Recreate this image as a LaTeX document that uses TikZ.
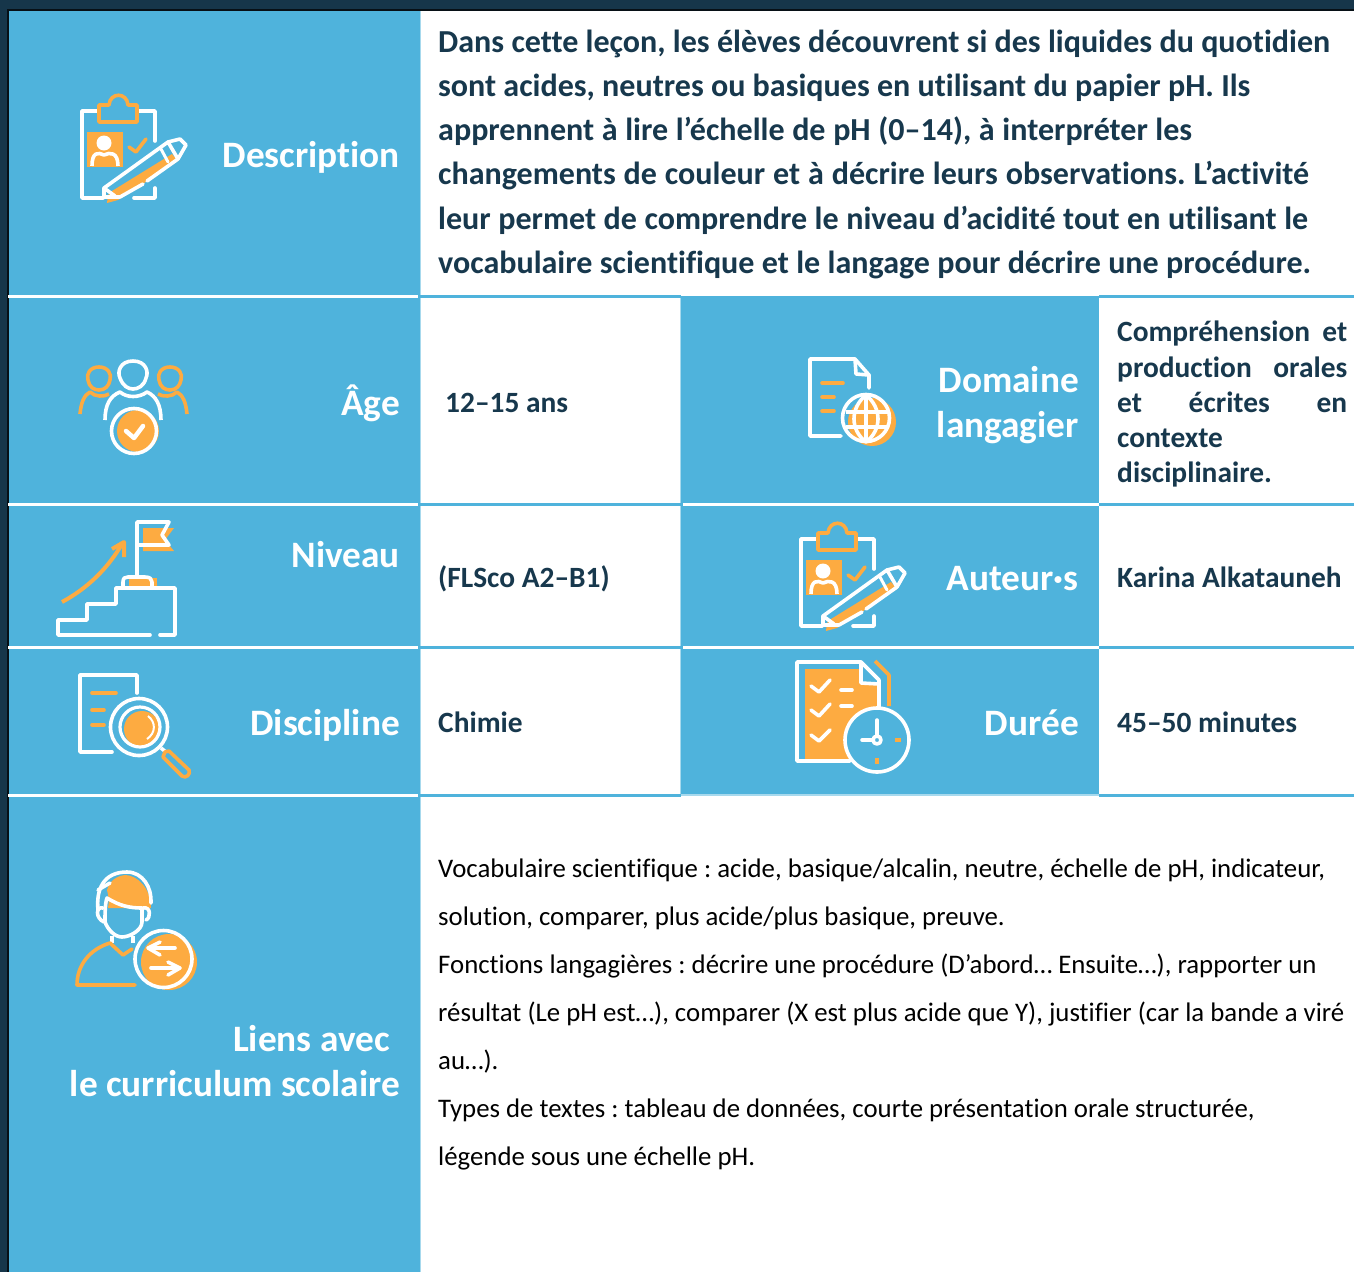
\documentclass[tikz,border=0pt]{standalone}
\usepackage{fontspec}
\setmainfont[Ligatures=NoCommon]{Carlito}
\AtBeginDocument{\frenchspacing}
\definecolor{cblue}{HTML}{4FB3DC}
\definecolor{corange}{HTML}{FDAB41}
\definecolor{cdark}{HTML}{16364A}
\definecolor{ctext}{HTML}{17384D}
\newcommand{\bigf}{\fontsize{37.3}{44}\selectfont\bfseries}
\newcommand{\parf}{\fontsize{32.05}{44}\selectfont\bfseries}
\newcommand{\midf}{\fontsize{29.4}{36}\selectfont\bfseries}
\newcommand{\regf}{\fontsize{26.8}{48}\selectfont}
\newcommand{\fitline}[2]{\makebox[#1pt][s]{#2}}
\tikzset{
  x=1pt,y=-1pt,
  head/.style={anchor=base east,text=white,font=\bigf,inner sep=0pt},
  para/.style={anchor=base west,text=ctext,font=\parf,inner sep=0pt},
  cell/.style={anchor=base west,text=ctext,font=\midf,inner sep=0pt},
  reg/.style={anchor=base west,text=black,font=\regf,inner sep=0pt},
  wl/.style={draw=white,line width=3.6pt,line cap=round,line join=round},
  ol/.style={draw=corange,line width=3.6pt,line cap=round,line join=round},
  bcell/.style={fill=cblue,draw=none},
  clipicon/.pic={
    \fill[corange] (87,132) rectangle (123,167);
    \fill[white] (104,143) circle (7.5);
    \draw[wl,line cap=butt] (92,166) .. controls (92,152) and (98,152) .. (104,155) .. controls (110,152) and (118,152) .. (118,166);
    \draw[wl] (98,111)--(82,111)--(82,198)--(103,198);
    \draw[wl] (134,198)--(155,198)--(155,188);
    \draw[wl] (138,111)--(155,111)--(155,141);
    \draw[ol] (99,122)--(99,105)--(109,105) .. controls (110,92) and (127,92) .. (128,105)--(137,105)--(137,122)--cycle;
    \draw[ol] (129,147)--(136,152)--(146,139);
    \fill[corange] (112,191)--(172,154)--(178,161)--(118,200)--(107,203)--(108,195)--cycle;
    \draw[wl] (104,197)--(104,188)--(168,142)--(178,159)--(147,181);
    \draw[wl] (143,184)--(120,197)--(104,197);
    \draw[wl] (168,142)--(180,139)--(186,145)--(178,159);
    \draw[wl] (104,188)--(115,196);
    \draw[wl,line width=3pt] (161,149)--(168,162);
  },
}
\begin{document}
\begin{tikzpicture}
\useasboundingbox (0,0) rectangle (1354,1272);
\fill[white] (0,0) rectangle (1354,1272);
\fill[cdark] (0,0) rectangle (1354,10);
\fill[cdark] (0,0) rectangle (8,1272);
\fill[black!70!cdark] (8,9) rectangle (1354,11);
\fill[black!70!cdark] (7,9) rectangle (9,1272);
% blue cells
\fill[bcell] (9,11) rectangle (420,1272);
\fill[bcell] (681,296) rectangle (1099,794);
\fill[cblue!50] (420,11) rectangle (421,1272);
\fill[cblue!50] (680,296) rectangle (681,795);
\fill[cblue!50] (681,794) rectangle (1099,796);
% separators
\foreach \yy in {296.5,504.5,647,795}{
  \fill[white] (8,\yy-1.5) rectangle (418,\yy+1.5);
  \fill[cblue] (420,\yy-1.5) rectangle (681,\yy+1.5);
  \fill[cblue] (1099,\yy-1.5) rectangle (1354,\yy+1.5);
}
\foreach \yy in {504.5,647}{\fill[white] (683,\yy-1.5) rectangle (1099,\yy+1.5);}
% headers
\node[head] (h1) at (400,167) {Description};
\node[head] (h2) at (400,415) {Âge};
\node[head] (h3) at (400,567) {Niveau};
\node[head] (h4) at (400,735) {Discipline};
\node[head] (h5) at (390,1051) {Liens avec};
\node[head] (h6) at (400,1096) {le curriculum scolaire};
\node[head] (h7) at (1079,392) {Domaine};
\node[head] (h8) at (1079,437) {langagier};
\node[head] (h9) at (1079,590) {Auteur·s};
\node[head] (h10) at (1079,735) {Durée};
% description
\node[para] (p1) at (438,52) {\fitline{892}{Dans cette leçon, les élèves découvrent si des liquides du quotidien}};
\node[para] (p2) at (438,96) {\fitline{812}{sont acides, neutres ou basiques en utilisant du papier pH. Ils}};
\node[para] (p3) at (438,140) {\fitline{754}{apprennent à lire l’échelle de pH (0–14), à interpréter les}};
\node[para] (p4) at (438,184) {\fitline{871}{changements de couleur et à décrire leurs observations. L’activité}};
\node[para] (p5) at (438,229) {\fitline{870}{leur permet de comprendre le niveau d’acidité tout en utilisant le}};
\node[para] (p6) at (438,273) {\fitline{873}{vocabulaire scientifique et le langage pour décrire une procédure.}};
% cells
\node[cell] (c1) at (445,412) {12–15 ans};
\node[cell] (c2) at (438,587) {(FLSco A2–B1)};
\node[cell] (c3) at (438,732) {Chimie};
\node[cell] (c4) at (1117,341) {\makebox[230pt][s]{Compréhension\hfill et}};
\node[cell] (c5) at (1117,377) {\makebox[230pt][s]{production\hfill orales}};
\node[cell] (c6) at (1117,412) {\makebox[230pt][s]{et\hfill écrites\hfill en}};
\node[cell] (c7) at (1117,447) {contexte};
\node[cell] (c8) at (1117,482) {disciplinaire.};
\node[cell] (c9) at (1117,587) {Karina Alkatauneh};
\node[cell] (c10) at (1117,732) {45–50 minutes};
% lower text
\node[reg] (r1) at (438,877) {Vocabulaire scientifique : acide, basique/alcalin, neutre, échelle de pH, indicateur,};
\node[reg] (r2) at (438,925) {solution, comparer, plus acide/plus basique, preuve.};
\node[reg] (r3) at (438,973) {Fonctions langagières : décrire une procédure (D’abord… Ensuite…), rapporter un};
\node[reg] (r4) at (438,1021) {résultat (Le pH est…), comparer (X est plus acide que Y), justifier (car la bande a viré};
\node[reg] (r5) at (438,1069) {au…).};
\node[reg] (r6) at (438,1117) {Types de textes : tableau de données, courte présentation orale structurée,};
\node[reg] (r7) at (438,1165) {légende sous une échelle pH.};
% ---- clipboard icons
\pic at (0,0) {clipicon};
\pic at (719,428) {clipicon};
% ---- people icon (Age)
\begin{scope}
  \draw[wl] (133,361) .. controls (120,361) and (117,372) .. (120,378) .. controls (123,386) and (128,389) .. (133,389) .. controls (138,389) and (144,386) .. (146,378) .. controls (149,372) and (146,361) .. (133,361)--cycle;
  \draw[wl,line cap=butt] (105,420) .. controls (105,405) and (110,396) .. (120,392) .. controls (127,398) and (139,398) .. (147,392) .. controls (156,396) and (161,405) .. (161,420);
  \draw[ol] (99,367) .. controls (90,367) and (86,374) .. (88,380) .. controls (89,387) and (94,390) .. (99,390) .. controls (105,390) and (109,386) .. (110,380) .. controls (112,374) and (108,367) .. (99,367)--cycle;
  \draw[ol,line cap=butt] (80,414) .. controls (81,403) and (84,395) .. (90,392) .. controls (95,397) and (104,397) .. (109,394);
  \draw[ol] (170,367) .. controls (161,367) and (157,374) .. (159,380) .. controls (160,387) and (165,390) .. (170,390) .. controls (176,390) and (180,386) .. (181,380) .. controls (183,374) and (179,367) .. (170,367)--cycle;
  \draw[ol,line cap=butt] (187,414) .. controls (186,403) and (183,395) .. (177,392) .. controls (172,397) and (163,397) .. (158,394);
  \fill[corange] (138,431) circle (21);
  \draw[wl] (134,431) circle (22.5);
  \draw[wl,line width=4.5pt] (126,431)--(134,438)--(143,426);
\end{scope}
% ---- stairs (Niveau)
\begin{scope}
  \fill[corange] (143,528)--(174,528)--(165,540)--(174,551)--(143,551)--cycle;
  \draw[wl] (137,585)--(137,522)--(169,522)--(162,535)--(169,545)--(137,545);
  \fill[corange] (129,578) rectangle (157,587);
  \fill[corange] (150,578) .. controls (154,577) and (157,579) .. (157,584)--(157,587)--(150,587)--cycle;
  \draw[wl] (123,587)--(123,582) .. controls (123,578) and (125,577) .. (128,577)--(145,577) .. controls (150,577) and (152,579) .. (152,582)--(152,587);
  \draw[wl] (150,635)--(58,635)--(58,620)--(87,620)--(87,604)--(116,604)--(116,588)--(175,588)--(175,635)--(160,635);
  \draw[ol,line width=4pt,line cap=butt] (62,602) .. controls (88,588) and (108,568) .. (122,544);
  \draw[ol,line width=4pt,line cap=butt] (112,549)--(124,542)--(124,557);
\end{scope}
% ---- magnifier (Discipline)
\begin{scope}
  \draw[wl] (112,752)--(80,752)--(80,675)--(137,675)--(137,693);
  \draw[ol] (92,693)--(116,693) (92,710)--(104,710) (92,725)--(104,725);
  \fill[corange] (142,729) circle (18);
  \draw[wl] (139,727) circle (28.5);
  \draw[wl,line width=3.2pt] (140,727) circle (20);
  \draw[wl,line cap=butt,line width=2pt] (148,716) .. controls (156,722) and (156,733) .. (147,739);
  \draw[wl,line cap=butt] (161,748)--(166,752);
  \draw[ol] (165,752) -- (169,751) -- (189,770) .. controls (191,774) and (186,779) .. (182,776) -- (163,757)--cycle;
\end{scope}
% ---- person (Liens)
\begin{scope}
  \fill[corange] (107,890) .. controls (110,880) and (117,876) .. (125,875) .. controls (137,875) and (151,888) .. (151,908) -- (108,908) .. controls (109,903) and (109,897) .. (107,890)--cycle;
  \draw[wl] (98,910) .. controls (96,890) and (103,872) .. (127,872) .. controls (143,872) and (152,888) .. (151,903);
  \draw[wl] (98,890)--(110,883);
  \draw[wl] (142,908) .. controls (130,908) and (120,906) .. (107,898) .. controls (105,903) and (105,915) .. (105,922) .. controls (108,930) and (115,937) .. (122,937) .. controls (130,937) and (142,930) .. (142,922)--(142,908);
  \draw[wl] (103,908) .. controls (96,906) and (95,918) .. (104,922);
  \draw[wl] (143,908) .. controls (151,906) and (151,918) .. (146,920);
  \draw[wl,line cap=butt] (112,936)--(112,943) (133,936)--(133,943);
  \draw[ol] (135,985)--(77,985) .. controls (77,965) and (90,949) .. (110,943)--(123,955)--(132,949);
  \fill[corange] (169,962) circle (28);
  \draw[wl] (163.5,959) circle (28.5);
  \draw[wl] (175,948)--(149,948);
  \draw[wl] (160,942)--(148,948)--(160,955);
  \draw[wl] (151,968)--(179,968);
  \draw[wl] (168,962)--(180,968)--(168,975);
\end{scope}
% ---- doc + globe (Domaine)
\begin{scope}
  \draw[wl] (841,436)--(810,436)--(810,359)--(855,359)--(869,375)--(869,388);
  \draw[wl] (855,359)--(856,374)--(869,375);
  \draw[ol] (822,383)--(843,383) (822,397)--(834,397) (822,411)--(834,411);
  \fill[corange] (872,422) circle (24);
  \draw[wl] (866,418) circle (23.5);
  \draw[wl] (866,395) .. controls (850,408) and (850,430) .. (866,442);
  \draw[wl] (866,395) .. controls (882,408) and (882,430) .. (866,442);
  \draw[wl,line cap=butt] (866,395)--(866,442);
  \draw[wl,line cap=butt] (846,412)--(888,412) (846,427)--(888,427);
\end{scope}
% ---- checklist + clock (Duree)
\begin{scope}
  \fill[corange] (805,669)--(861,669)--(861,685)--(879,685)--(879,722)--(850,760)--(805,760)--cycle;
  \draw[ol,line cap=butt] (875,661)--(889,675)--(889,706);
  \draw[wl] (850,761)--(797,761)--(797,662)--(861,662)--(879,680)--(879,708);
  \draw[wl] (861,662)--(861,683)--(879,684);
  \draw[wl] (811,686)--(819,692)--(830,680);
  \draw[wl] (811,710)--(819,716)--(830,704);
  \draw[wl] (811,735)--(819,741)--(830,730);
  \draw[wl] (841,690)--(852,690) (841,706)--(852,706);
  \fill[cblue] (877,740) circle (32);
  \draw[wl] (877,740) circle (32);
  \draw[wl] (877,720)--(877,735) (862,740)--(872,740);
  \draw[wl] (877,740) circle (4);
  \draw[ol,line cap=butt] (895,740)--(901,740) (877,758)--(877,764);
\end{scope}
\end{tikzpicture}
\end{document}
